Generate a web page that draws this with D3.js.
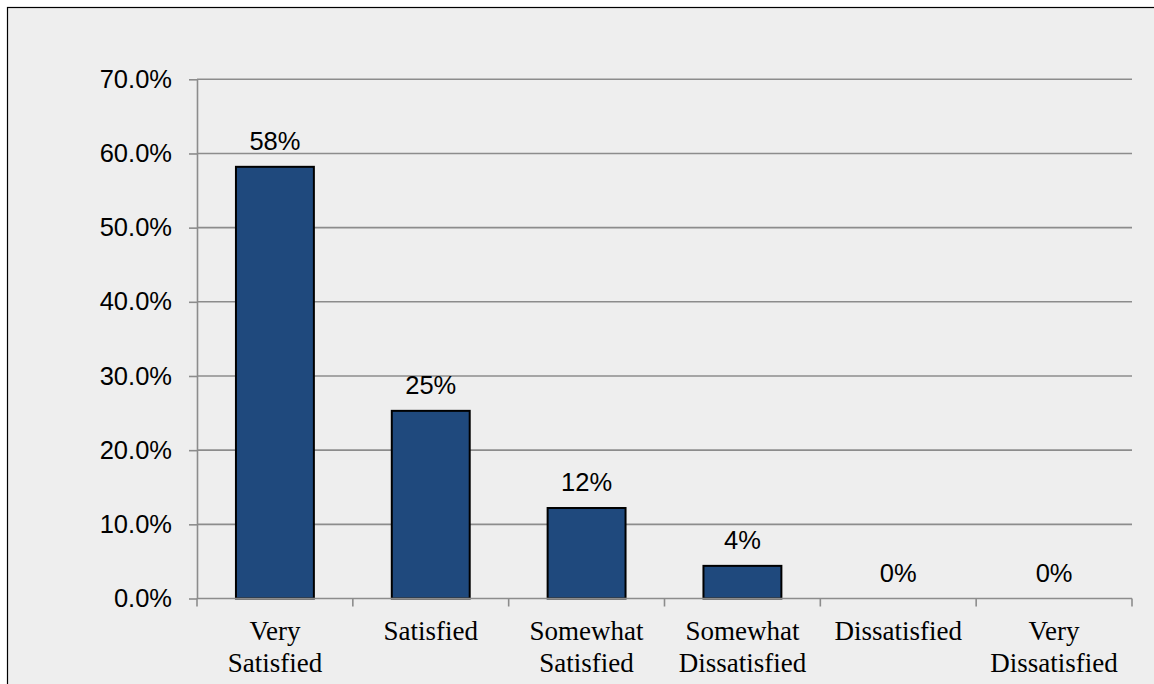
<!DOCTYPE html>
<html>
<head>
<meta charset="utf-8">
<script src="https://cdn.jsdelivr.net/npm/d3@7/dist/d3.min.js"></script>
<style>
  html, body { margin: 0; padding: 0; background: #ffffff; }
  svg { display: block; }
</style>
</head>
<body>
<svg id="chart" width="1154" height="684"></svg>
<script>
// Satisfaction survey results
const categories = [
  "Very Satisfied", "Satisfied", "Somewhat Satisfied",
  "Somewhat Dissatisfied", "Dissatisfied", "Very Dissatisfied"
];
const categoryLines = [
  ["Very", "Satisfied"], ["Satisfied"], ["Somewhat", "Satisfied"],
  ["Somewhat", "Dissatisfied"], ["Dissatisfied"], ["Very", "Dissatisfied"]
];
const shares = [0.582, 0.253, 0.122, 0.044, 0, 0];
const yTicks = [0, 0.1, 0.2, 0.3, 0.4, 0.5, 0.6, 0.7];

const svg = d3.select("#chart");
const W = 1154, H = 684;
const plot = { left: 197, right: 1132, top: 79.3, bottom: 598.5 };

// chart area background and frame
svg.append("rect")
  .attr("x", 7.5).attr("y", 7.5)
  .attr("width", W + 20).attr("height", H + 20)
  .attr("fill", "#eeeeee")
  .attr("stroke", "#000000")
  .attr("stroke-width", 1.2);

const x = d3.scaleBand()
  .domain(categories)
  .range([plot.left, plot.right])
  .paddingInner(0.5)
  .paddingOuter(0.25);

const y = d3.scaleLinear()
  .domain([0, 0.7])
  .range([plot.bottom, plot.top]);

const gridColor = "#8c8c8c";

// horizontal gridlines
svg.append("g")
  .selectAll("line")
  .data(yTicks.filter(d => d > 0))
  .join("line")
  .attr("x1", plot.left).attr("x2", plot.right)
  .attr("y1", d => y(d)).attr("y2", d => y(d))
  .attr("stroke", gridColor)
  .attr("stroke-width", 1.6);

// y axis
const yAxis = svg.append("g")
  .attr("transform", `translate(${plot.left},0)`)
  .call(d3.axisLeft(y).tickValues(yTicks).tickFormat(d3.format(".1%")).tickSize(8).tickSizeOuter(0).tickPadding(17));
yAxis.select(".domain").attr("stroke", gridColor).attr("stroke-width", 1.6);
yAxis.selectAll(".tick line").attr("stroke", gridColor).attr("stroke-width", 1.6);
yAxis.selectAll(".tick text")
  .attr("fill", "#000")
  .style("font-family", "'Liberation Sans', Arial, sans-serif")
  .style("font-size", "25.5px");

// bars
svg.append("g")
  .selectAll("rect")
  .data(shares.map((v, i) => ({ cat: categories[i], v })).filter(d => d.v > 0))
  .join("rect")
  .attr("x", d => x(d.cat))
  .attr("y", d => y(d.v))
  .attr("width", x.bandwidth())
  .attr("height", d => y(0) - y(d.v))
  .attr("fill", "#1f497d")
  .attr("stroke", "#000000")
  .attr("stroke-width", 2);

// x axis baseline with category boundary ticks
const step = x.step();
const boundaries = d3.range(categories.length + 1).map(i => plot.left + i * step);
const xg = svg.append("g");
xg.append("line")
  .attr("x1", plot.left).attr("x2", plot.right)
  .attr("y1", y(0)).attr("y2", y(0))
  .attr("stroke", gridColor).attr("stroke-width", 1.6);
xg.selectAll("line.tick")
  .data(boundaries)
  .join("line")
  .attr("class", "tick")
  .attr("x1", d => d).attr("x2", d => d)
  .attr("y1", y(0)).attr("y2", y(0) + 8)
  .attr("stroke", gridColor).attr("stroke-width", 1.6);

// category labels
const catG = svg.append("g")
  .style("font-family", "'Liberation Serif', 'Times New Roman', serif")
  .style("font-size", "27px")
  .attr("fill", "#000");
categories.forEach((c, i) => {
  const t = catG.append("text")
    .attr("text-anchor", "middle")
    .attr("x", x(c) + x.bandwidth() / 2)
    .attr("y", y(0) + 41.5);
  categoryLines[i].forEach((ln, j) => {
    t.append("tspan")
      .attr("x", x(c) + x.bandwidth() / 2)
      .attr("dy", j === 0 ? 0 : 31.5)
      .text(ln);
  });
});

// value labels
svg.append("g")
  .selectAll("text")
  .data(shares.map((v, i) => ({ cat: categories[i], v })))
  .join("text")
  .attr("text-anchor", "middle")
  .attr("x", d => x(d.cat) + x.bandwidth() / 2)
  .attr("y", d => y(d.v) - 17)
  .style("font-family", "'Liberation Sans', Arial, sans-serif")
  .style("font-size", "25.5px")
  .attr("fill", "#000")
  .text(d => d3.format(".0%")(d.v));
</script>
</body>
</html>
